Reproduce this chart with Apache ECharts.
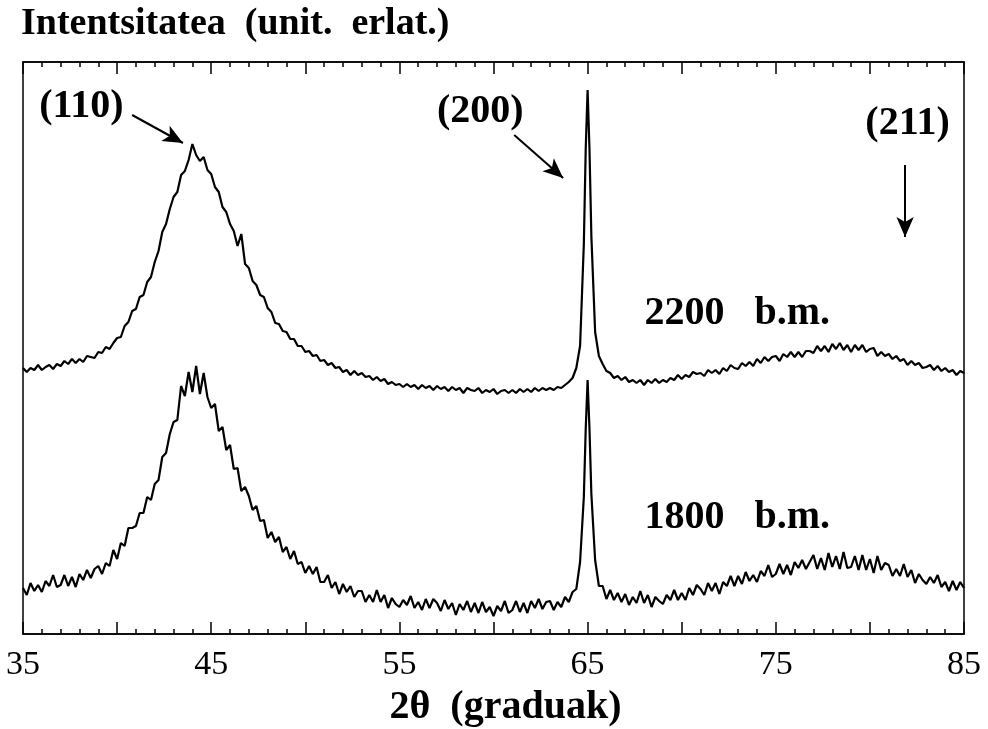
<!DOCTYPE html>
<html>
<head>
<meta charset="utf-8">
<script src="https://cdn.jsdelivr.net/npm/echarts@6/dist/echarts.min.js"></script>
<style>
  html, body { margin: 0; padding: 0; background: #fff; }
  #chart { width: 988px; height: 729px; }
</style>
</head>
<body>
<div id="chart"></div>
<script>
// 2theta scan points (degrees), finer around the (200) peak
var twoTheta = [
  35.0, 35.2, 35.4, 35.6, 35.8, 36.0, 36.2, 36.4, 36.6, 36.8,
  37.0, 37.2, 37.4, 37.6, 37.8, 38.0, 38.2, 38.4, 38.6, 38.8,
  39.0, 39.2, 39.4, 39.6, 39.8, 40.0, 40.2, 40.4, 40.6, 40.8,
  41.0, 41.2, 41.4, 41.6, 41.8, 42.0, 42.2, 42.4, 42.6, 42.8,
  43.0, 43.2, 43.4, 43.6, 43.8, 44.0, 44.2, 44.4, 44.6, 44.8,
  45.0, 45.2, 45.4, 45.6, 45.8, 46.0, 46.2, 46.4, 46.6, 46.8,
  47.0, 47.2, 47.4, 47.6, 47.8, 48.0, 48.2, 48.4, 48.6, 48.8,
  49.0, 49.2, 49.4, 49.6, 49.8, 50.0, 50.2, 50.4, 50.6, 50.8,
  51.0, 51.2, 51.4, 51.6, 51.8, 52.0, 52.2, 52.4, 52.6, 52.8,
  53.0, 53.2, 53.4, 53.6, 53.8, 54.0, 54.2, 54.4, 54.6, 54.8,
  55.0, 55.2, 55.4, 55.6, 55.8, 56.0, 56.2, 56.4, 56.6, 56.8,
  57.0, 57.2, 57.4, 57.6, 57.8, 58.0, 58.2, 58.4, 58.6, 58.8,
  59.0, 59.2, 59.4, 59.6, 59.8, 60.0, 60.2, 60.4, 60.6, 60.8,
  61.0, 61.2, 61.4, 61.6, 61.8, 62.0, 62.2, 62.4, 62.6, 62.8,
  63.0, 63.2, 63.4, 63.6, 63.8, 64.0, 64.2, 64.4, 64.6, 64.8, 64.9,
  65.0, 65.1, 65.2, 65.4, 65.6, 65.8, 66.0, 66.2, 66.4, 66.6, 66.8,
  67.0, 67.2, 67.4, 67.6, 67.8, 68.0, 68.2, 68.4, 68.6, 68.8,
  69.0, 69.2, 69.4, 69.6, 69.8, 70.0, 70.2, 70.4, 70.6, 70.8,
  71.0, 71.2, 71.4, 71.6, 71.8, 72.0, 72.2, 72.4, 72.6, 72.8,
  73.0, 73.2, 73.4, 73.6, 73.8, 74.0, 74.2, 74.4, 74.6, 74.8,
  75.0, 75.2, 75.4, 75.6, 75.8, 76.0, 76.2, 76.4, 76.6, 76.8,
  77.0, 77.2, 77.4, 77.6, 77.8, 78.0, 78.2, 78.4, 78.6, 78.8,
  79.0, 79.2, 79.4, 79.6, 79.8, 80.0, 80.2, 80.4, 80.6, 80.8,
  81.0, 81.2, 81.4, 81.6, 81.8, 82.0, 82.2, 82.4, 82.6, 82.8,
  83.0, 83.2, 83.4, 83.6, 83.8, 84.0, 84.2, 84.4, 84.6, 84.8,
  85.0
];

// 2200 b.m. pattern (relative intensity, offset upwards)
var int2200 = [
  266, 262, 266, 264, 269, 264, 267, 269, 265, 270,
  268, 273, 270, 275, 271, 275, 272, 278, 277, 276,
  282, 281, 287, 285, 291, 296, 297, 308, 312, 323,
  325, 337, 339, 352, 357, 372, 383, 402, 410, 425,
  437, 442, 459, 463, 474, 490, 479, 473, 477, 464,
  460, 447, 442, 427, 422, 410, 403, 388, 400, 370,
  366, 353, 349, 339, 337, 326, 322, 311, 310, 303,
  302, 295, 295, 288, 288, 282, 283, 278, 279, 273,
  274, 269, 271, 266, 267, 262, 264, 259, 263, 259,
  261, 257, 258, 254, 257, 253, 255, 250, 252, 249,
  250, 247, 250, 247, 249, 245, 249, 246, 248, 244,
  248, 245, 247, 243, 247, 244, 246, 241, 246, 244,
  243, 246, 241, 244, 242, 245, 240, 243, 244, 241,
  244, 241, 245, 242, 245, 242, 246, 243, 246, 244,
  246, 244, 247, 246, 249, 252, 256, 266, 288, 390, 485,
  544, 485, 398, 302, 278, 270, 263, 261, 256, 258, 254,
  257, 252, 254, 251, 254, 249, 254, 251, 255, 251,
  254, 252, 256, 254, 259, 255, 259, 257, 262, 260,
  261, 258, 264, 261, 264, 260, 266, 263, 269, 266,
  265, 271, 268, 272, 268, 275, 271, 277, 273, 277,
  278, 273, 280, 277, 282, 277, 282, 277, 283, 283,
  281, 288, 283, 288, 282, 290, 285, 291, 284, 289,
  282, 289, 284, 289, 282, 285, 286, 278, 282, 278,
  280, 275, 278, 273, 275, 269, 273, 269, 271, 266,
  267, 269, 264, 268, 263, 266, 262, 264, 259, 263,
  261
];

// 1800 b.m. pattern
var int1800 = [
  46, 39, 51, 43, 49, 42, 53, 48, 59, 47,
  49, 59, 48, 57, 47, 60, 54, 64, 56, 65,
  68, 60, 71, 68, 84, 75, 91, 88, 106, 106,
  108, 121, 121, 137, 134, 150, 154, 177, 181, 200,
  212, 214, 248, 238, 262, 242, 268, 240, 261, 237,
  226, 230, 203, 207, 184, 189, 165, 166, 143, 147,
  138, 124, 128, 113, 114, 96, 102, 92, 97, 82,
  87, 75, 83, 70, 72, 61, 68, 60, 67, 52,
  52, 59, 46, 52, 40, 50, 42, 48, 37, 43,
  43, 32, 39, 32, 44, 32, 39, 26, 36, 30,
  27, 34, 29, 38, 26, 32, 24, 35, 26, 35,
  31, 23, 34, 25, 31, 19, 30, 24, 33, 22,
  31, 21, 32, 22, 27, 18, 28, 23, 33, 21,
  24, 33, 22, 31, 21, 33, 26, 35, 25, 32,
  33, 24, 32, 27, 37, 32, 42, 45, 72, 137, 205,
  254, 205, 140, 74, 48, 48, 35, 44, 34, 41, 32,
  40, 29, 37, 31, 43, 31, 39, 27, 37, 33,
  30, 39, 34, 44, 34, 41, 34, 46, 39, 49,
  45, 39, 51, 43, 51, 40, 52, 48, 58, 48,
  58, 50, 62, 53, 59, 52, 63, 58, 69, 57,
  60, 70, 60, 69, 59, 72, 66, 74, 65, 72,
  79, 65, 76, 64, 81, 67, 78, 65, 82, 66,
  67, 78, 64, 79, 64, 75, 61, 78, 64, 71,
  69, 58, 65, 58, 70, 57, 64, 51, 60, 54,
  50, 57, 51, 59, 47, 52, 43, 53, 44, 52,
  46
];

var xTickLabels = [35, 45, 55, 65, 75, 85];

// reflection labels and arrows [x, y] in data units
var peakNames = ['(110)', '(200)', '(211)'];
var peakLabelAt = [[38.1, 527], [59.3, 522], [82.0, 510]];
var arrowFrom = [[40.8, 519], [61.1, 499], [81.87, 469]];
var arrowTo = [[43.5, 491], [63.7, 456], [81.87, 397]];

var sampleNames = ['2200   b.m.', '1800   b.m.'];
var sampleLabelAt = [[72.95, 320], [72.95, 116]];

var serif = '"Liberation Serif", "Times New Roman", "DejaVu Serif", serif';

function pairs(ys) {
  return twoTheta.map(function (t, i) { return [t, ys[i]]; });
}

var chart = echarts.init(document.getElementById('chart'));

var axisCommon = {
  type: 'value',
  min: 35,
  max: 85,
  interval: 5,
  axisLine: { show: true, onZero: false, lineStyle: { color: '#000', width: 1.5 } },
  axisTick: { show: true, inside: true, length: 12, lineStyle: { color: '#000', width: 1.5 } },
  minorTick: { show: true, splitNumber: 5, length: 5, lineStyle: { color: '#000', width: 1.5 } },
  splitLine: { show: false },
  minorSplitLine: { show: false }
};

var option = {
  backgroundColor: '#fff',
  animation: false,
  title: {
    text: 'Intentsitatea  (unit.  erlat.)',
    left: 21,
    top: 5,
    padding: 0,
    textStyle: { fontFamily: serif, fontSize: 38, fontWeight: 'bold', color: '#000' }
  },
  grid: {
    left: 23, right: 24, top: 62, bottom: 95,
    show: true, borderColor: '#000', borderWidth: 1.5,
    containLabel: false,
    outerBoundsMode: 'none'
  },
  xAxis: [
    Object.assign({}, axisCommon, {
      position: 'bottom',
      name: '2θ  (graduak)',
      nameLocation: 'middle',
      nameGap: 54,
      nameTextStyle: { fontFamily: serif, fontSize: 40, fontWeight: 'bold', color: '#000', padding: [0, 0, 0, 24] },
      axisLabel: {
        show: true,
        margin: 14,
        fontFamily: serif,
        fontSize: 34,
        color: '#000',
        formatter: function (v) {
          return xTickLabels.indexOf(v) >= 0 ? String(v) : '';
        }
      }
    }),
    Object.assign({}, axisCommon, {
      position: 'top',
      axisLabel: { show: false }
    })
  ],
  yAxis: [{
    type: 'value',
    min: 0,
    max: 572,
    axisLine: { show: false },
    axisTick: { show: false },
    axisLabel: { show: false },
    splitLine: { show: false }
  }],
  series: [
    {
      name: '2200 b.m.',
      type: 'line',
      data: pairs(int2200),
      showSymbol: false,
      symbol: 'none',
      lineStyle: { color: '#000', width: 2.2 },
      silent: true,
      markLine: {
        silent: true,
        symbol: ['none', 'arrow'],
        symbolSize: [13, 20],
        label: { show: false },
        lineStyle: { color: '#000', width: 2, type: 'solid' },
        data: arrowFrom.map(function (p, i) {
          return [{ coord: p }, { coord: arrowTo[i] }];
        })
      },
      markPoint: {
        silent: true,
        symbol: 'circle',
        symbolSize: 0,
        itemStyle: { color: 'transparent' },
        label: {
          show: true,
          position: 'inside',
          formatter: '{b}',
          fontFamily: serif,
          fontSize: 40,
          fontWeight: 'bold',
          color: '#000'
        },
        data: peakNames.map(function (n, i) {
          return { name: n, coord: peakLabelAt[i] };
        }).concat(sampleNames.map(function (n, i) {
          return { name: n, coord: sampleLabelAt[i] };
        }))
      }
    },
    {
      name: '1800 b.m.',
      type: 'line',
      data: pairs(int1800),
      showSymbol: false,
      symbol: 'none',
      lineStyle: { color: '#000', width: 2.2 },
      silent: true
    }
  ]
};

chart.setOption(option);
</script>
</body>
</html>
